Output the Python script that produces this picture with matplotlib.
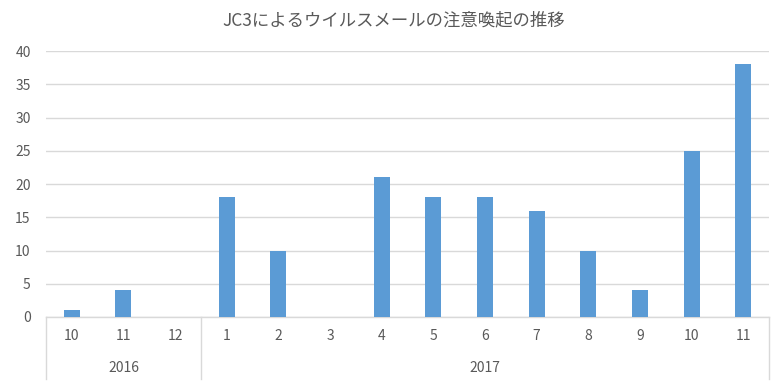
import matplotlib.pyplot as plt
import matplotlib.transforms as mtransforms

plt.rcParams['font.family'] = ['Noto Sans CJK JP', 'DejaVu Sans']

# data
months = ['10', '11', '12', '1', '2', '3', '4', '5', '6', '7', '8', '9', '10', '11']
counts = [1, 4, 0, 18, 10, 0, 21, 18, 18, 16, 10, 4, 25, 38]
years = ['2016', '2017']
year_span = [(0, 2), (3, 13)]  # first and last category index of each year

gray = '#595959'
line_gray = '#D9D9D9'

fig = plt.figure(figsize=(7.82, 3.89), dpi=100)
ax = fig.add_axes([46 / 782, 72 / 389, 723 / 782, 266 / 389])

x = list(range(len(months)))
ax.bar(x, counts, width=0.31, color='#5B9BD5', zorder=3)

ax.set_xlim(-0.5, len(months) - 0.5)
ax.set_ylim(0, 40)
ax.set_yticks(range(0, 41, 5))
ax.yaxis.grid(True, color=line_gray, linewidth=1, zorder=0)
ax.tick_params(axis='y', length=0, pad=11, labelsize=10, labelcolor=gray)

ax.set_xticks(x)
ax.set_xticklabels(months)
ax.tick_params(axis='x', length=0, pad=9, labelsize=10, labelcolor=gray)

for side in ['top', 'right', 'left']:
    ax.spines[side].set_visible(False)
ax.spines['bottom'].set_color(line_gray)
ax.spines['bottom'].set_linewidth(1)

# multi-level category axis: year labels and separators
trans = mtransforms.blended_transform_factory(ax.transData, ax.transAxes)
bottom = -62 / 266
seps = [year_span[0][0] - 0.5] + [end + 0.5 for _, end in year_span]
for s in seps:
    ax.plot([s, s], [0, bottom], transform=trans, color=line_gray,
            linewidth=1, clip_on=False)
for name, (a, b) in zip(years, year_span):
    ax.text((a + b) / 2, -51 / 266, name, transform=trans, ha='center',
            va='center', fontsize=10, color=gray)

fig.text(0.503, 1 - 20 / 389, 'JC3によるウイルスメールの注意喚起の推移',
         ha='center', va='center', fontsize=12.5, color=gray)

fig.savefig('out.png', dpi=100)
